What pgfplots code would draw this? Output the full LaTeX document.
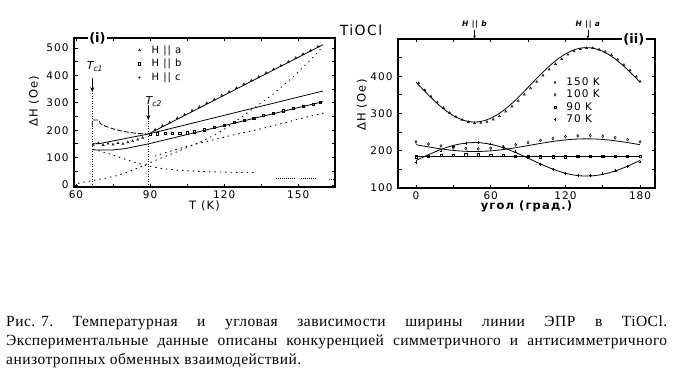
\documentclass[border=0pt]{standalone}
\usepackage{pgfplots}
\pgfplotsset{compat=1.18}
\usepackage{fontspec}
\usetikzlibrary{arrows.meta}
\setmainfont{Liberation Serif}
\newfontfamily\axfont[LetterSpace=10]{DejaVu Sans}
\newfontfamily\plainax{DejaVu Sans}
\newfontfamily\capfont[LetterSpace=3]{Liberation Serif}
\newcommand\axf{\axfont\fontsize{10.5}{11}\selectfont}
\newcommand\labf{\axfont\fontsize{11.5}{12}\selectfont}
\pgfplotsset{myax/.style={scale only axis, clip=false,
  axis line style={line width=1.1pt},
  tick align=inside, major tick length=3.5pt, minor tick length=3.5pt,
  every tick/.style={line width=0.8pt, black},
  tick label style={font=\axf},
  /pgf/number format/assume math mode=true,
  label style={font=\labf},
  every axis plot/.append style={line width=0.8pt, black},
  legend cell align=left,
}}
\tikzset{dotser/.style={dash pattern=on 0.9pt off 4.5pt, line width=0.9pt, line cap=round}}
\begin{document}
\begin{tikzpicture}
\path[use as bounding box] (0pt,0pt) rectangle (685pt,381pt);
\node[font=\axfont\fontsize{14}{15}\selectfont] at (361pt,351pt) {TiOCl};
% ---------------- left panel
\begin{axis}[myax, at={(74pt,194pt)}, anchor=south west, width=261pt, height=149pt,
  xmin=59.2, xmax=164.9, ymin=-7.3, ymax=536.5,
  xtick={60,90,120,150}, minor xtick={75,105,135},
  ytick={0,100,...,500}, minor ytick={50,150,...,450},
  xlabel={T (K)}, ylabel={ΔH (Oe)},
  xlabel style={at={(axis description cs:0.5,0)}, anchor=center, yshift=-19pt},
  ylabel style={at={(axis description cs:-0.153,0.577)}, anchor=center},
  yticklabel style={xshift=-2pt},
  legend style={at={(axis cs:84,524)}, anchor=north west, draw=none, fill=none,
    font=\axfont\fontsize{10}{11}\selectfont, row sep=0.5pt},
]
\addplot[only marks, mark=triangle, mark size=1.2pt, mark options={line width=0.5pt}] coordinates {
(92,202) (95,216) (98,228) (101,244) (104,257) (107,272) (110,285) (113,299) (116,312)
(119,327) (122,340) (125,354) (128,368) (131,381) (134,395) (137,409) (140,422) (143,436)
(146,450) (149,464) (152,478) (155,491) (158,505)
(67,147) (69,152) (71,146) (73,151) (75,148) (77,153) (79,150) (81,156) (83,160) (85,166) (87,172)};
\addlegendentry{\hspace{9pt}H || a}
\addplot[only marks, mark=square, mark size=1.1pt, mark options={line width=0.5pt}] coordinates {
(90,186) (93,187) (96,189) (99,189) (102,190) (105,191) (108,194) (112,202) (116,211)
(120,219) (124,228) (128,236) (132,245) (136,254) (140,262) (144,271) (148,279)
(152,287) (156,295) (159,301)};
\addlegendentry{\hspace{9pt}H || b}
\addlegendimage{only marks, mark=*, mark size=0.6pt}
\addlegendentry{\hspace{9pt}H || c}
% fits
\addplot[forget plot] coordinates {(89.3,186) (160,512)};
\addplot[forget plot, dash pattern=on 5pt off 2pt] coordinates {
(66.6,215) (66.6,237) (69.5,237) (69.8,224) (72,214) (75,205) (78,198) (81,193) (84,189) (87,187) (89.3,186)};
\addplot[forget plot] coordinates {(66.6,150) (70,152) (89.3,186) (160,343)};
\addplot[forget plot] coordinates {(66.6,128) (75,128) (80,133) (89.3,150) (160,304)};
% dotted contributions
\addplot[forget plot, dotser] coordinates {
(61,6) (64,12) (68,18) (72,25) (76,33) (80,44) (84,58) (88,74) (92,89) (96,104) (100,118)
(104,133) (108,148) (112,164) (116,182) (120,203) (124,228) (128,254) (132,280) (136,306)
(140,333) (144,364) (148,395) (152,430) (156,466) (160,505)};
\addplot[forget plot, dotser] coordinates {
(92,106) (97,120) (101,131) (105,141) (109,150) (113,159) (117,168) (121,177) (125,185)
(129,193) (133,201) (137,210) (141,219) (145,228) (149,238) (153,247) (157,256) (161,264)};
\addplot[forget plot, dotser] coordinates {
(67,130) (70,123) (73,115) (76,106) (79,97) (82,88) (85,80) (88,72) (91,66) (95,60)
(99,56) (104,52) (109,50) (115,48) (121,47) (127,46) (133,45)};
\addplot[forget plot, dash pattern=on 0.8pt off 1.2pt, line width=0.8pt] coordinates {(141,24) (149,24)};
\addplot[forget plot, dash pattern=on 0.8pt off 1.2pt, line width=0.8pt] coordinates {(151,23) (157,23)};
\addplot[forget plot, dash pattern=on 0.8pt off 1.2pt, line width=0.8pt] coordinates {(162.5,22) (164.5,22)};
% transition markers
\draw[dash pattern=on 1pt off 1.5pt, line width=0.7pt] (axis cs:66.6,-7.3) -- (axis cs:66.6,339);
\draw[dash pattern=on 1pt off 1.5pt, line width=0.7pt] (axis cs:89.3,-7.3) -- (axis cs:89.3,237);
\draw[line width=0.8pt, -{Stealth[length=5pt,width=4pt]}] (axis cs:66.6,391) -- (axis cs:66.6,339);
\draw[line width=0.8pt, -{Stealth[length=5pt,width=4pt]}] (axis cs:89.3,292) -- (axis cs:89.3,237);
\node[anchor=west, inner sep=0pt, font=\plainax\fontsize{11}{12}\selectfont] at (axis cs:64.3,432) {\itshape T\textsubscript{c1}};
\node[anchor=west, inner sep=0pt, font=\plainax\fontsize{11}{12}\selectfont] at (axis cs:88.1,305) {\itshape T\textsubscript{c2}};
\node[fill=white, inner sep=1.5pt, font=\plainax\bfseries\fontsize{13}{14}\selectfont] at (axis cs:68.7,536.5) {(i)};
\end{axis}
% ---------------- right panel
\begin{axis}[myax, at={(398pt,193pt)}, anchor=south west, width=257pt, height=149pt,
  xmin=-14.5, xmax=192, ymin=100, ymax=500,
  xtick={0,60,120,180}, minor xtick={30,90,150},
  ytick={100,200,300,400}, minor ytick={150,250,350,450},
  xlabel={угол (град.)}, ylabel={ΔH (Oe)},
  xlabel style={at={(axis description cs:0.5,0)}, anchor=center, yshift=-18pt, font=\labf\bfseries},
  ylabel style={at={(axis description cs:-0.14,0.557)}, anchor=center},
  yticklabel style={xshift=-2pt},
  legend style={at={(axis cs:108,407)}, anchor=north west, draw=none, fill=none,
    font=\axfont\fontsize{10.5}{11}\selectfont, row sep=-1pt},
]
\addplot[only marks, mark=triangle, mark size=1.2pt, mark options={line width=0.5pt}] coordinates {
(2,382) (7,363) (12,346) (17,330) (22,315) (27,302) (32,291) (37,283) (42,277) (47,274)
(52,275) (57,278) (62,284) (67,293) (72,305) (77,319) (82,334) (87,351) (92,368) (97,385)
(102,402) (107,418) (112,433) (117,446) (122,458) (127,467) (132,473) (137,476) (142,476)
(147,472) (152,466) (157,457) (162,445) (167,431) (172,416) (177,399) (180,386)};
\addlegendentry{\hspace{8pt}150 K}
\addplot[only marks, mark=diamond, mark size=1.4pt, mark options={line width=0.5pt}] coordinates {
(0,224) (10,218) (20,213) (30,208) (40,206) (50,205) (60,207) (70,211) (80,216) (90,222)
(100,228) (110,233) (120,238) (130,240) (140,241) (150,239) (160,235) (170,230) (180,224)};
\addlegendentry{\hspace{8pt}100 K}
\addplot[only marks, mark=square, mark size=1.1pt, mark options={line width=0.5pt}] coordinates {
(0,184) (10,186) (20,187) (30,188) (40,189) (50,189) (60,188) (70,187) (80,186) (90,185)
(100,184) (110,184) (120,184) (130,185) (140,186) (150,186) (160,186) (170,186) (180,185)};
\addlegendentry{\hspace{8pt}90 K}
\addplot[only marks, mark=+, mark size=1.4pt, mark options={line width=0.5pt}] coordinates {
(0,168) (10,185) (20,200) (30,212) (40,220) (50,222) (60,218) (70,209) (80,197) (90,181)
(100,163) (110,149) (120,139) (130,134) (140,134) (150,138) (160,146) (170,158) (180,170)};
\addlegendentry{\hspace{8pt}70 K}
% fits
\addplot[forget plot] coordinates {
(0,384.0) (5,366.5) (10,349.4) (15,333.2) (20,318.2) (25,305.1) (30,294.1) (35,285.6)
(40,280.0) (45,277.2) (50,277.5) (55,280.9) (60,287.1) (65,296.1) (70,307.5) (75,321.1)
(80,336.3) (85,352.8) (90,370.0) (95,387.5) (100,404.6) (105,420.8) (110,435.8) (115,448.9)
(120,459.9) (125,468.4) (130,474.0) (135,476.8) (140,476.5) (145,473.1) (150,466.9)
(155,457.9) (160,446.5) (165,432.9) (170,417.7) (175,401.2) (180,384.0)};
\addplot[forget plot, smooth] coordinates {
(0,216.2) (10,210.3) (20,205.0) (30,200.9) (40,198.5) (50,198.1) (60,199.7) (70,203.2)
(80,208.1) (90,213.8) (100,219.7) (110,225.0) (120,229.1) (130,231.5) (140,231.9)
(150,230.3) (160,226.8) (170,221.9) (180,216.2)};
\addplot[forget plot] coordinates {(0,186) (180,186)};
\addplot[forget plot, smooth] coordinates {
(0,173.9) (10,189.4) (20,203.5) (30,214.3) (40,220.7) (50,221.8) (60,217.4) (70,208.3)
(80,195.3) (90,180.1) (100,164.6) (110,150.5) (120,139.7) (130,133.3) (140,132.2)
(150,136.6) (160,145.7) (170,158.7) (180,173.9)};
% field directions
\draw[line width=0.6pt, -{Stealth[length=3pt,width=2.5pt]}] (axis cs:47,523) -- (axis cs:47,501);
\draw[line width=0.6pt, -{Stealth[length=3pt,width=2.5pt]}] (axis cs:138,523) -- (axis cs:138,501);
\node[font=\axfont\bfseries\itshape\fontsize{7.5}{8}\selectfont, inner sep=0pt] at (axis cs:47,540) {H || b};
\node[font=\axfont\bfseries\itshape\fontsize{7.5}{8}\selectfont, inner sep=0pt] at (axis cs:138,540) {H || a};
\node[fill=white, inner sep=1.5pt, font=\plainax\bfseries\fontsize{13}{14}\selectfont] at (axis cs:175,500) {(ii)};
\end{axis}
% ---------------- caption
\node[anchor=base west, inner sep=0pt] at (6pt,55pt) {\makebox[661pt][s]{\capfont\fontsize{15.5}{19}\selectfont \mbox{Рис. 7.} Температурная и угловая зависимости ширины линии ЭПР в TiOCl.}};
\node[anchor=base west, inner sep=0pt] at (6pt,36pt) {\makebox[661pt][s]{\capfont\fontsize{15.5}{19}\selectfont Экспериментальные данные описаны конкуренцией симметричного и антисимметричного}};
\node[anchor=base west, inner sep=0pt] at (6pt,17pt) {\capfont\fontsize{15.5}{19}\selectfont анизотропных обменных взаимодействий.};
\end{tikzpicture}
\end{document}
